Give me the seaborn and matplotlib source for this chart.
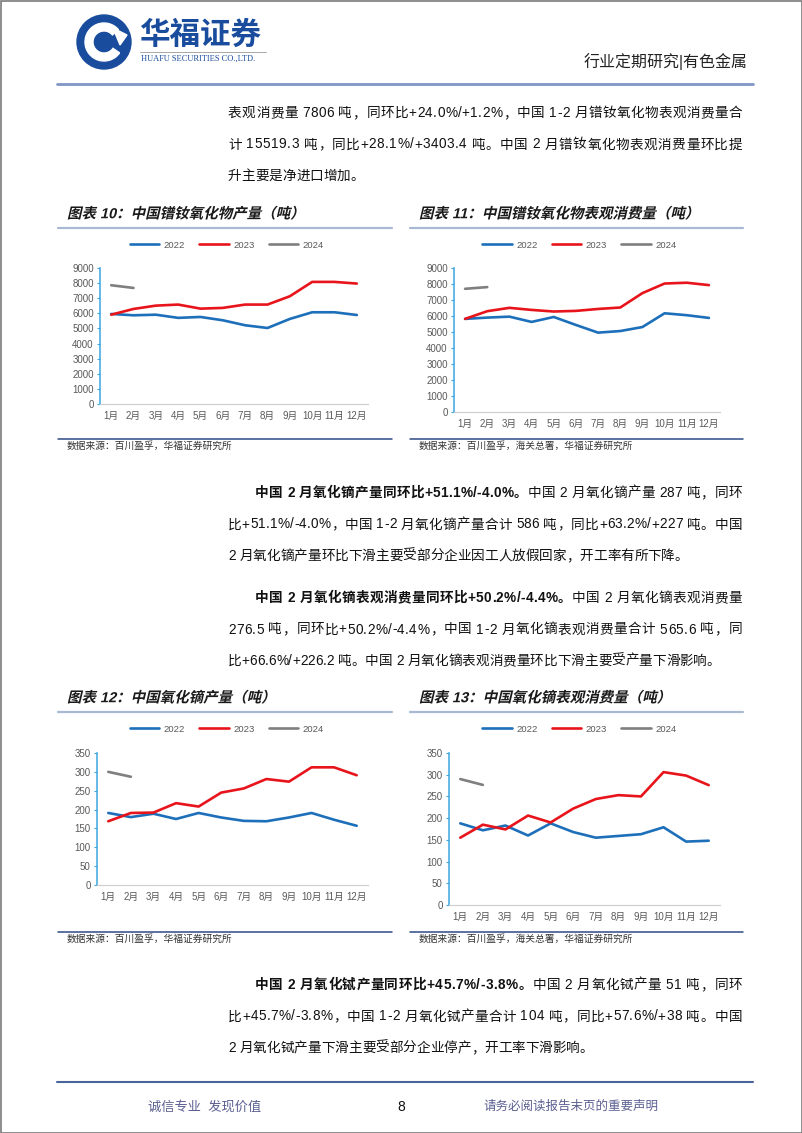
import matplotlib
matplotlib.use("Agg")
import matplotlib.pyplot as plt
import matplotlib.patches as mpatches
from matplotlib.lines import Line2D
from matplotlib.textpath import TextPath
from matplotlib.transforms import Affine2D
from matplotlib import font_manager as fm
from matplotlib.ft2font import FT2Font
import numpy as np
import pandas as pd
import seaborn as sns

W, H, DPI = 802, 1133, 100

months = [f"{i}月" for i in range(1, 13)]
years = ["2022", "2023", "2024"]
palette = {"2022": "#1D6FBA", "2023": "#E8141B", "2024": "#7F7F7F"}

# 镨钕氧化物产量
prnd_prod_2022 = [5960, 5870, 5910, 5700, 5760, 5540, 5210, 5030, 5630, 6070, 6070, 5890]
prnd_prod_2023 = [5910, 6290, 6510, 6580, 6310, 6360, 6580, 6580, 7130, 8080, 8080, 7970]
prnd_prod_2024 = [7860, 7680]
# 镨钕氧化物表观消费量
prnd_cons_2022 = [5820, 5900, 5960, 5630, 5940, 5440, 4960, 5060, 5310, 6170, 6050, 5880]
prnd_cons_2023 = [5820, 6300, 6510, 6380, 6280, 6320, 6440, 6530, 7430, 8030, 8080, 7930]
prnd_cons_2024 = [7700, 7806]
# 氧化镝产量
dy_prod_2022 = [191, 180, 189, 175, 191, 179, 170, 169, 179, 191, 173, 157]
dy_prod_2023 = [169, 191, 192, 217, 208, 245, 256, 281, 274, 312, 312, 291]
dy_prod_2024 = [300, 287]
# 氧化镝表观消费量
dy_cons_2022 = [188, 172, 183, 160, 188, 168, 155, 159, 163, 179, 146, 148]
dy_cons_2023 = [155, 185, 174, 206, 190, 222, 244, 253, 250, 306, 298, 276]
dy_cons_2024 = [290, 276.5]

titles = ["图表 10：中国镨钕氧化物产量（吨）", "图表 11：中国镨钕氧化物表观消费量（吨）",
          "图表 12：中国氧化镝产量（吨）", "图表 13：中国氧化镝表观消费量（吨）"]
sources = ["数据来源：百川盈孚，华福证券研究所", "数据来源：百川盈孚，海关总署，华福证券研究所",
           "数据来源：百川盈孚，华福证券研究所", "数据来源：百川盈孚，海关总署，华福证券研究所"]

paragraphs = [
    (112, [[("表观消费量 7806 吨，同环比+24.0%/+1.2%，中国 1-2 月镨钕氧化物表观消费量合", False)],
           [("计 15519.3 吨，同比+28.1%/+3403.4 吨。中国 2 月镨钕氧化物表观消费量环比提", False)],
           [("升主要是净进口增加。", False)]]),
    (492, [[("中国 2 月氧化镝产量同环比+51.1%/-4.0%。", True), ("中国 2 月氧化镝产量 287 吨，同环", False)],
           [("比+51.1%/-4.0%，中国 1-2 月氧化镝产量合计 586 吨，同比+63.2%/+227 吨。中国", False)],
           [("2 月氧化镝产量环比下滑主要受部分企业因工人放假回家，开工率有所下降。", False)]]),
    (597, [[("中国 2 月氧化镝表观消费量同环比+50.2%/-4.4%。", True), ("中国 2 月氧化镝表观消费量", False)],
           [("276.5 吨，同环比+50.2%/-4.4%，中国 1-2 月氧化镝表观消费量合计 565.6 吨，同", False)],
           [("比+66.6%/+226.2 吨。中国 2 月氧化镝表观消费量环比下滑主要受产量下滑影响。", False)]]),
    (984, [[("中国 2 月氧化铽产量同环比+45.7%/-3.8%。", True), ("中国 2 月氧化铽产量 51 吨，同环", False)],
           [("比+45.7%/-3.8%，中国 1-2 月氧化铽产量合计 104 吨，同比+57.6%/+38 吨。中国", False)],
           [("2 月氧化铽产量下滑主要受部分企业停产，开工率下滑影响。", False)]]),
]

sns.set_theme(style="white")
plt.rcParams["font.family"] = ["Liberation Sans", "Noto Sans CJK SC"]

fig = plt.figure(figsize=(W / DPI, H / DPI), dpi=DPI)
bg = fig.add_axes([0, 0, 1, 1], zorder=-1)
bg.set_xlim(0, W)
bg.set_ylim(H, 0)
bg.axis("off")

BODY_PT = 9.8
_fonts = {}


def advance(ch, size, bold):
    if ord(ch) > 0x2E7F:
        return size * DPI / 72
    if bold not in _fonts:
        prop = fm.FontProperties(family="Liberation Sans", weight="bold" if bold else "normal")
        _fonts[bold] = FT2Font(fm.findfont(prop))
    font = _fonts[bold]
    font.set_size(size, DPI)
    return font.load_char(ord(ch)).linearHoriAdvance / 65536


def body_line(x0, y, pieces, right=None):
    chars = [(c, b) for text, b in pieces for c in text]
    widths = [advance(c, BODY_PT, b) for c, b in chars]
    gap = 0
    if right is not None:
        gap = (right - x0 - sum(widths)) / (len(chars) - 1)
    x = x0
    for (c, b), w in zip(chars, widths):
        if c != " ":
            bg.text(x, y + 5, c, fontsize=BODY_PT, fontweight="bold" if b else "normal",
                    va="baseline", ha="left", color="#111111")
        x += w + gap


def italic_title(x, y, s, size_px):
    prop = fm.FontProperties(family=["Liberation Sans", "Noto Sans CJK SC"], weight="bold")
    try:
        path = TextPath((0, 0), s, size=size_px, prop=prop)
        tr = Affine2D().skew_deg(13, 0).scale(1, -1).translate(x, y + size_px * 0.36)
        bg.add_patch(mpatches.PathPatch(path, transform=tr + bg.transData, fc="#1A1A1A", lw=0))
    except Exception:
        bg.text(x, y, s, fontsize=size_px * 72 / DPI, fontweight="bold", color="#1A1A1A",
                va="center", ha="left")


def hline(x0, x1, y, color, lw):
    bg.add_line(Line2D([x0, x1], [y, y], color=color, lw=lw))


# header
logo_blue = "#1A4C9E"
bg.add_patch(mpatches.Circle((104, 42), 27, color=logo_blue))
bg.add_patch(mpatches.Wedge((104, 42), 19, 35, 320, width=8, color="white"))
bg.add_patch(mpatches.Polygon([(104, 33), (113, 42), (104, 51), (95, 42)], color=logo_blue))
bg.add_patch(mpatches.Polygon([(113, 28), (127, 35), (120, 45)], color="white"))
bg.text(139, 36, "华福证券", fontsize=22, fontweight="bold", color=logo_blue, va="center", ha="left")
hline(140, 266, 52, "#9A9A9A", 0.6)
bg.text(141, 59, "HUAFU SECURITIES CO.,LTD.", fontsize=6, family="Liberation Serif",
        color=logo_blue, va="center", ha="left")
bg.text(748, 62, "行业定期研究|有色金属", fontsize=11.5, color="#222222", va="center", ha="right")
hline(57, 753, 84, "#7F95C3", 2.0)

# paragraphs
for y0, lines in paragraphs:
    for i, pieces in enumerate(lines):
        indent = 2 * BODY_PT * DPI / 72 if pieces[0][1] else 0
        right = 742 if i < len(lines) - 1 else None
        body_line(228 + indent, y0 + i * 31.5, pieces, right)

# charts
charts = [
    ((100, 268, 368, 404), 9000, 1000, (prnd_prod_2022, prnd_prod_2023, prnd_prod_2024), (58, 392), 213, 228, 245, 439),
    ((454, 268, 720, 412), 9000, 1000, (prnd_cons_2022, prnd_cons_2023, prnd_cons_2024), (410, 743), 213, 228, 245, 439),
    ((97, 753, 368, 885), 350, 50, (dy_prod_2022, dy_prod_2023, dy_prod_2024), (58, 392), 697, 712, 729, 932),
    ((449, 753, 720, 905), 350, 50, (dy_cons_2022, dy_cons_2023, dy_cons_2024), (410, 743), 697, 712, 729, 932),
]

for k, (box, ymax, ystep, series, (fx0, fx1), ty, uy, ly, sy) in enumerate(charts):
    x0, y0, x1, y1 = box
    ax = fig.add_axes([x0 / W, 1 - y1 / H, (x1 - x0) / W, (y1 - y0) / H])
    rows = []
    for yr, vals in zip(years, series):
        for m, v in zip(months, vals):
            rows.append((m, yr, v))
    df = pd.DataFrame(rows, columns=["month", "year", "value"])
    df["month"] = pd.Categorical(df["month"], categories=months, ordered=True)
    sns.lineplot(data=df, x="month", y="value", hue="year", hue_order=years, palette=palette,
                 linewidth=1.9, errorbar=None, sort=False, legend=False, ax=ax)
    ax.set_xlim(-0.5, 11.5)
    ax.set_ylim(0, ymax)
    ax.set_yticks(np.arange(0, ymax + 1, ystep))
    ax.set_xlabel("")
    ax.set_ylabel("")
    ax.set_facecolor("none")
    for s in ("top", "right"):
        ax.spines[s].set_visible(False)
    ax.spines["left"].set_color("#3BA7E0")
    ax.spines["left"].set_linewidth(1.1)
    ax.spines["bottom"].set_color("#D0D0D0")
    ax.spines["bottom"].set_linewidth(0.9)
    ax.tick_params(axis="y", left=True, length=2.5, width=0.8, color="#3BA7E0",
                   labelsize=7, labelcolor="#595959", pad=2)
    ax.tick_params(axis="x", bottom=False, length=0, labelsize=7, labelcolor="#595959", pad=5)

    handles = [Line2D([], [], color=palette[yr], lw=1.9) for yr in years]
    cx = (145 + 309) / 2 if fx0 < 400 else (497 + 662) / 2
    leg = ax.legend(handles, years, ncol=3, frameon=False, fontsize=6.8, handlelength=3.1,
                    handletextpad=0.5, columnspacing=1.5, loc="center",
                    bbox_to_anchor=(cx / W, 1 - ly / H), bbox_transform=fig.transFigure)
    for t in leg.get_texts():
        t.set_color("#595959")

    italic_title(fx0 + 9, ty, titles[k], 14.5)
    hline(fx0, fx1, uy, "#A9B8D3", 1.6)
    hline(fx0, fx1, sy, "#2E4A86", 1.1)
    bg.text(fx0 + 9, sy + 7, sources[k], fontsize=7, color="#333333", va="center", ha="left")

# footer
hline(57, 753, 1082, "#4B6499", 1.5)
bg.text(205, 1107, "诚信专业  发现价值", fontsize=9.5, color="#5B5F91", va="center", ha="center")
bg.text(401, 1107, "8", fontsize=10, color="#111111", va="center", ha="center")
bg.text(571, 1107, "请务必阅读报告末页的重要声明", fontsize=9, color="#5B5F91", va="center", ha="center")
bg.add_patch(mpatches.Rectangle((0.5, 0.5), W - 1, H - 1, fill=False, ec="#7A7A7A", lw=1.2))

fig.savefig("out.png", dpi=DPI)
